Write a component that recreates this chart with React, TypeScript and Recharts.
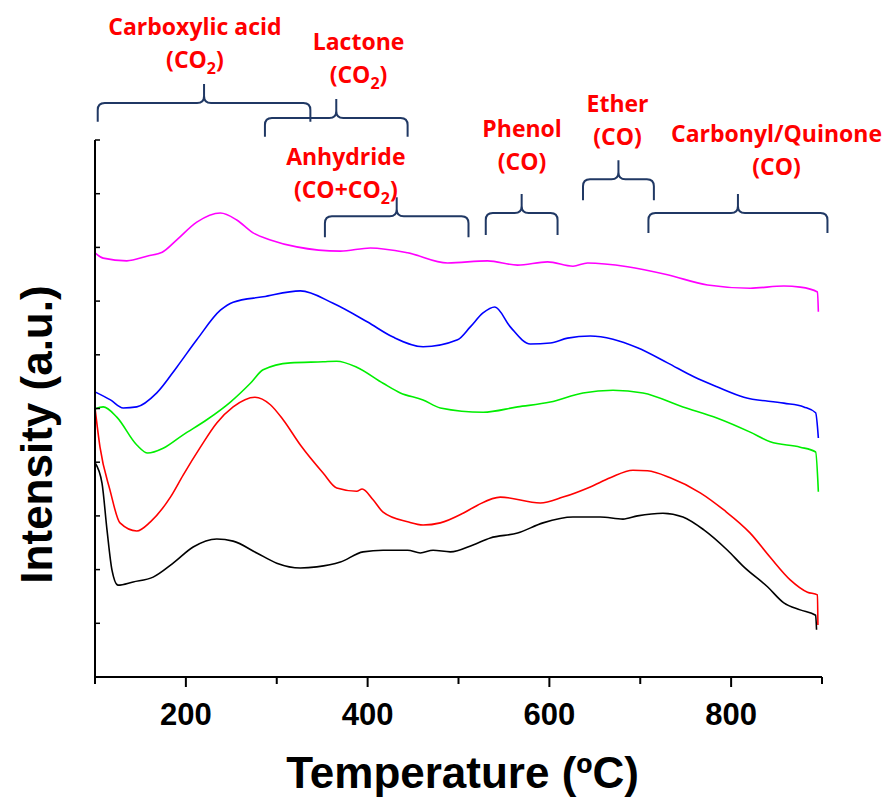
import { LineChart, Line, XAxis, YAxis, ReferenceArea, ReferenceDot, Label } from "recharts";

// TPD traces as [temperature (°C), intensity (a.u.)], top to bottom
const magentaTrace: [number, number][] = [
  [100, 7.9], [109, 7.8], [135, 7.75], [158, 7.84], [174, 7.91], [190, 8.14], [212, 8.47],
  [238, 8.64], [256, 8.51], [274, 8.27], [293, 8.14], [322, 8.01], [370, 7.93], [403, 7.99],
  [444, 7.9], [488, 7.71], [532, 7.75], [565, 7.67], [598, 7.73], [626, 7.65], [642, 7.71],
  [686, 7.64], [730, 7.49], [774, 7.3], [821, 7.24], [858, 7.28], [876, 7.26], [895, 7.17],
  [896, 6.8],
];
const blueTrace: [number, number][] = [
  [100, 5.31], [117, 5.16], [131, 5.01], [146, 5.03], [168, 5.29], [190, 5.77], [212, 6.28],
  [238, 6.83], [252, 6.98], [285, 7.08], [326, 7.19], [362, 6.96], [400, 6.61], [428, 6.33],
  [461, 6.15], [499, 6.28], [513, 6.52], [527, 6.78], [540, 6.89], [557, 6.52], [579, 6.2],
  [601, 6.22], [620, 6.31], [645, 6.35], [670, 6.29], [697, 6.13], [730, 5.85], [759, 5.59],
  [785, 5.4], [814, 5.21], [858, 5.1], [880, 5.03], [893, 4.92], [896, 4.45],
];
const greenTrace: [number, number][] = [
  [100, 4.99], [109, 5.03], [124, 4.84], [146, 4.32], [158, 4.17], [175, 4.26], [197, 4.51],
  [223, 4.79], [249, 5.12], [271, 5.47], [285, 5.72], [315, 5.85], [351, 5.87], [366, 5.88],
  [388, 5.77], [417, 5.47], [436, 5.29], [461, 5.16], [480, 5.01], [527, 4.93], [565, 5.03],
  [601, 5.12], [637, 5.29], [670, 5.34], [703, 5.29], [747, 5.03], [785, 4.82], [821, 4.56],
  [843, 4.38], [876, 4.28], [893, 4.19], [896, 3.45],
];
const redTrace: [number, number][] = [
  [100, 5.01], [105.5, 4.28], [116.5, 3.48], [127.5, 2.87], [146, 2.72], [161, 2.89],
  [183, 3.35], [197, 3.76], [216, 4.28], [234, 4.73], [252, 5.03], [276, 5.21], [293, 5.07],
  [307, 4.79], [326, 4.32], [351, 3.8], [366, 3.52], [388, 3.46], [394, 3.5], [406, 3.3],
  [417, 3.07], [444, 2.89], [461, 2.83], [480, 2.87], [505, 3.05], [521, 3.2], [546, 3.35],
  [590, 3.24], [615, 3.35], [645, 3.54], [667, 3.71], [692, 3.85], [708, 3.84], [733, 3.71],
  [766, 3.43], [792, 3.11], [821, 2.68], [843, 2.23], [865, 1.81], [884, 1.58], [895, 1.53],
  [895.5, 0.97],
];
const blackTrace: [number, number][] = [
  [100, 3.99], [107.7, 3.61], [113.2, 2.74], [118.7, 1.99], [125.3, 1.71], [142, 1.77],
  [164, 1.86], [186, 2.12], [208, 2.42], [234, 2.57], [252, 2.53], [278, 2.31], [300, 2.12],
  [326, 2.03], [344, 2.05], [370, 2.14], [395, 2.33], [417, 2.36], [444, 2.36], [458, 2.31],
  [472, 2.36], [491, 2.33], [516, 2.46], [535, 2.59], [565, 2.68], [593, 2.87], [626, 2.98],
  [656, 2.98], [681, 2.94], [697, 3.0], [725, 3.05], [747, 2.98], [770, 2.74], [796, 2.36],
  [814, 2.05], [840, 1.68], [858, 1.38], [876, 1.25], [893, 1.15], [894, 0.88],
];

// surface group assignments: temperature ranges and evolved gas
const groupNames = ["Carboxylic acid", "Lactone", "Anhydride", "Phenol", "Ether", "Carbonyl/Quinone"];
const groupGas = ["(CO2)", "(CO2)", "(CO+CO2)", "(CO)", "(CO)", "(CO)"];
const braceFrom = [103, 287, 353, 530, 637, 709];
const braceTo = [337, 444, 511, 609, 715, 906];
const braceLevel = [10.69, 10.41, 8.58, 8.64, 9.27, 8.64];
const braceFoot = [10.34, 10.06, 8.19, 8.23, 8.88, 8.27];
const labelT = [210, 390, 376, 570, 675, 850];
const labelI = [11.96, 11.68, 9.53, 10.06, 10.52, 9.96];

const xTicks = [100, 200, 300, 400, 500, 600, 700, 800, 900];
const yTicks = [0, 1, 2, 3, 4, 5, 6, 7, 8, 9, 10];

const toPoints = (trace: [number, number][]) => trace.map(([t, i]) => ({ t, i }));

const series = [
  { name: "magenta", color: "#ff00ff", data: toPoints(magentaTrace) },
  { name: "blue", color: "#0000ff", data: toPoints(blueTrace) },
  { name: "green", color: "#00ee00", data: toPoints(greenTrace) },
  { name: "red", color: "#ff0000", data: toPoints(redTrace) },
  { name: "black", color: "#000000", data: toPoints(blackTrace) },
];

const AXIS_FONT = "'Liberation Sans', Arial, sans-serif";
const NOTE_FONT = "'Open Sans', 'Noto Sans', sans-serif";
const BRACE_COLOR = "#203864";

const TempTick = (props: any) => {
  const { x, y, payload } = props;
  const major = payload.value % 200 === 0;
  return (
    <g>
      <line x1={x} y1={y} x2={x} y2={y + (major ? 10 : 7)} stroke="#000" strokeWidth={2} />
      {major && (
        <text x={x} y={y + 48} textAnchor="middle" fontFamily={AXIS_FONT} fontWeight={700} fontSize={31} fill="#000">
          {payload.value}
        </text>
      )}
    </g>
  );
};

const IntensityTick = (props: any) => {
  const { x, y } = props;
  return <line x1={x} y1={y} x2={x + 5} y2={y} stroke="#000" strokeWidth={1.5} />;
};

// curly bracket spanning the rect: bar along the top edge, feet down, stem up in the middle
const Brace = (props: any) => {
  const { x, y, width, height } = props;
  const r = 7;
  const stem = 19;
  const m = x + width / 2;
  const right = x + width;
  const d = [
    `M ${x} ${y + height} L ${x} ${y + r} Q ${x} ${y} ${x + r} ${y} L ${m - r} ${y} Q ${m} ${y} ${m} ${y - r} L ${m} ${y - stem}`,
    `M ${m} ${y - r} Q ${m} ${y} ${m + r} ${y} L ${right - r} ${y} Q ${right} ${y} ${right} ${y + r} L ${right} ${y + height}`,
  ].join(" ");
  return <path d={d} fill="none" stroke={BRACE_COLOR} strokeWidth={2} />;
};

const gasText = (gas: string) =>
  gas.split("2").flatMap((part, k) =>
    k === 0
      ? [part]
      : [
          <tspan key={`s${k}`} dy={6} fontSize={16}>2</tspan>,
          <tspan key={`p${k}`} dy={-6}>{part}</tspan>,
        ]
  );

const GroupLabel = ({ cx, cy, name, gas }: any) => (
  <g fill="#ff0000" fontFamily={NOTE_FONT} fontWeight={700} fontSize={23} textAnchor="middle">
    <text x={cx} y={cy}>{name}</text>
    <text x={cx} y={cy + 33}>{gasText(gas)}</text>
  </g>
);

const XTitle = (props: any) => {
  const vb = props.viewBox;
  return (
    <text x={vb.x + vb.width / 2 + 4} y={vb.y + 111} textAnchor="middle" fontFamily={AXIS_FONT} fontWeight={700} fontSize={44} fill="#000">
      Temperature (ºC)
    </text>
  );
};

const YTitle = (props: any) => {
  const vb = props.viewBox;
  const x = vb.x + 52;
  const y = vb.y + vb.height / 2 + 26;
  return (
    <text x={x} y={y} transform={`rotate(-90 ${x} ${y})`} textAnchor="middle" fontFamily={AXIS_FONT} fontWeight={700} fontSize={44} fill="#000">
      Intensity (a.u.)
    </text>
  );
};

export default function App() {
  return (
    <div style={{ position: "absolute", left: 0, top: 0, background: "#fff" }}>
      <LineChart width={894} height={803} margin={{ top: 140, right: 72, bottom: 0, left: 0 }}>
        <XAxis
          type="number"
          dataKey="t"
          domain={[100, 900]}
          ticks={xTicks}
          height={126}
          axisLine={{ stroke: "#000", strokeWidth: 2 }}
          tickLine={false}
          tickSize={0}
          tickMargin={0}
          tick={<TempTick />}
          interval={0}
        >
          <Label content={<XTitle />} />
        </XAxis>
        <YAxis
          type="number"
          dataKey="i"
          domain={[0, 10]}
          ticks={yTicks}
          width={95}
          axisLine={{ stroke: "#000", strokeWidth: 2 }}
          tickLine={false}
          tickSize={0}
          tickMargin={0}
          tick={<IntensityTick />}
          interval={0}
        >
          <Label content={<YTitle />} />
        </YAxis>
        {series.map((s) => (
          <Line
            key={s.name}
            data={s.data}
            dataKey="i"
            type="monotoneX"
            stroke={s.color}
            strokeWidth={1.6}
            dot={false}
            activeDot={false}
            isAnimationActive={false}
          />
        ))}
        {groupNames.map((name, k) => (
          <ReferenceArea
            key={`brace-${name}`}
            x1={braceFrom[k]}
            x2={braceTo[k]}
            y1={braceFoot[k]}
            y2={braceLevel[k]}
            ifOverflow="visible"
            shape={<Brace />}
          />
        ))}
        {groupNames.map((name, k) => (
          <ReferenceDot
            key={`label-${name}`}
            x={labelT[k]}
            y={labelI[k]}
            ifOverflow="visible"
            shape={(p: any) => <GroupLabel cx={p.cx} cy={p.cy} name={name} gas={groupGas[k]} />}
          />
        ))}
      </LineChart>
    </div>
  );
}
